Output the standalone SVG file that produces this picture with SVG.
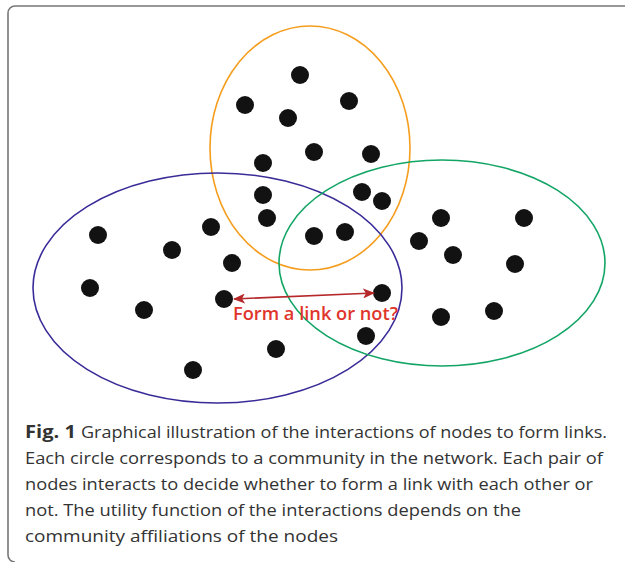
<svg xmlns="http://www.w3.org/2000/svg" width="625" height="562" viewBox="0 0 625 562">
<style>
.n{fill:#121212}
.cap{font-family:"Open Sans","Liberation Sans",sans-serif;font-size:17px;fill:#333}
.lbl{font-family:"Open Sans","Liberation Sans",sans-serif;font-size:18.5px;font-weight:600;fill:#e0352b}
.comm{fill:none;stroke-width:1.6}
</style>
<defs>
<marker id="ah" viewBox="0 0 12 10" refX="11" refY="5" markerWidth="12" markerHeight="10" markerUnits="userSpaceOnUse" orient="auto-start-reverse">
<path d="M0,0 L12,5 L0,10 L3,5 Z" fill="#b5292a"/>
</marker>
</defs>
<rect width="625" height="562" fill="#fff"/>
<path d="M625,6 H15 A7,7 0 0 0 8,13 V555 A7,7 0 0 0 15,562" fill="none" stroke="#777" stroke-width="1.6"/>
<g id="communities">
<ellipse id="c-orange" class="comm" cx="310" cy="148" rx="100" ry="122" stroke="#f59d1d"/>
<ellipse id="c-blue" class="comm" cx="217.5" cy="288" rx="184.5" ry="115" stroke="#3a2c98"/>
<ellipse id="c-green" class="comm" cx="442" cy="263" rx="163" ry="103" stroke="#13a565"/>
</g>
<g id="nodes">
<circle id="n1" class="n" cx="300" cy="75" r="9"/>
<circle id="n2" class="n" cx="245" cy="105" r="9"/>
<circle id="n3" class="n" cx="288" cy="118" r="9"/>
<circle id="n4" class="n" cx="349" cy="101" r="9"/>
<circle id="n5" class="n" cx="314" cy="152" r="9"/>
<circle id="n6" class="n" cx="371" cy="154" r="9"/>
<circle id="n7" class="n" cx="263" cy="163" r="9"/>
<circle id="n8" class="n" cx="263" cy="195" r="9"/>
<circle id="n9" class="n" cx="267" cy="218" r="9"/>
<circle id="n10" class="n" cx="362" cy="192" r="9"/>
<circle id="n11" class="n" cx="382" cy="201" r="9"/>
<circle id="n12" class="n" cx="314" cy="236" r="9"/>
<circle id="n13" class="n" cx="345" cy="232" r="9"/>
<circle id="n14" class="n" cx="98" cy="235" r="9"/>
<circle id="n15" class="n" cx="172" cy="250" r="9"/>
<circle id="n16" class="n" cx="211" cy="227" r="9"/>
<circle id="n17" class="n" cx="232" cy="263" r="9"/>
<circle id="n18" class="n" cx="90" cy="288" r="9"/>
<circle id="n19" class="n" cx="144" cy="310" r="9"/>
<circle id="n20" class="n" cx="224" cy="299" r="9"/>
<circle id="n21" class="n" cx="276" cy="349" r="9"/>
<circle id="n22" class="n" cx="193" cy="370" r="9"/>
<circle id="n23" class="n" cx="441" cy="218" r="9"/>
<circle id="n24" class="n" cx="524" cy="218" r="9"/>
<circle id="n25" class="n" cx="419" cy="241" r="9"/>
<circle id="n26" class="n" cx="453" cy="255" r="9"/>
<circle id="n27" class="n" cx="515" cy="264" r="9"/>
<circle id="n28" class="n" cx="382" cy="293" r="9"/>
<circle id="n29" class="n" cx="441" cy="317" r="9"/>
<circle id="n30" class="n" cx="494" cy="311" r="9"/>
<circle id="n31" class="n" cx="366" cy="336" r="9"/>
</g>
<g id="connectors">
<line x1="234" y1="299" x2="374" y2="293" stroke="#b5292a" stroke-width="1.6" marker-start="url(#ah)" marker-end="url(#ah)"/>
</g>
<text class="lbl" x="233" y="320" textLength="165" lengthAdjust="spacingAndGlyphs">Form a link or not?</text>
<g id="caption">
<text class="cap" x="25" y="438" font-weight="700" textLength="51" lengthAdjust="spacingAndGlyphs">Fig. 1</text>
<text class="cap" x="81" y="438" textLength="526" lengthAdjust="spacingAndGlyphs">Graphical illustration of the interactions of nodes to form links.</text>
<text class="cap" x="25" y="464" textLength="578" lengthAdjust="spacingAndGlyphs">Each circle corresponds to a community in the network. Each pair of</text>
<text class="cap" x="25" y="490" textLength="568" lengthAdjust="spacingAndGlyphs">nodes interacts to decide whether to form a link with each other or</text>
<text class="cap" x="25" y="516" textLength="496" lengthAdjust="spacingAndGlyphs">not. The utility function of the interactions depends on the</text>
<text class="cap" x="25" y="542" textLength="313" lengthAdjust="spacingAndGlyphs">community affiliations of the nodes</text>
</g>
</svg>
